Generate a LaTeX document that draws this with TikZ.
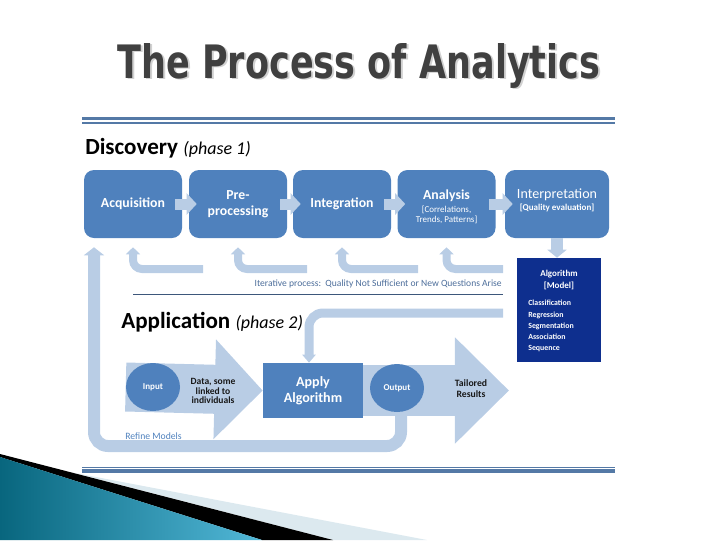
\documentclass[tikz,border=0pt]{standalone}
\usepackage{fontspec}
\setmainfont{Carlito}
\newfontfamily\titlefont{DejaVu Sans}
\usetikzlibrary{arrows.meta,shapes.geometric,positioning,backgrounds}
\newdimen\px \px=0.025cm
\newcommand{\fsz}[2]{\fontsize{#1}{#2}\selectfont}
\definecolor{boxblue}{HTML}{4F81BD}
\definecolor{paleblue}{HTML}{B9CDE5}
\definecolor{algblue}{HTML}{0E2F8E}
\definecolor{rulesteel}{HTML}{5479A6}
\definecolor{titlegray}{HTML}{404040}
\definecolor{iterblue}{HTML}{4C6D9A}
\definecolor{tealdark}{HTML}{08667E}
\definecolor{teallight}{HTML}{52B8D8}
\definecolor{bandpale}{HTML}{DCE9EF}
\tikzset{
  stepbox/.style={rectangle, rounded corners=10\px, fill=boxblue, text=white, align=center,
    inner sep=0pt, minimum width=98\px, minimum height=68\px, font=\fsz{9.8}{11.5}\bfseries},
  steptext/.style={text=white, align=center, inner sep=0pt},
  steparrow/.style={paleblue, line width=11\px, -{Triangle[width=0.525cm,length=0.25cm]}},
  backarrow/.style={paleblue, line width=8\px, rounded corners=9\px,
    -{Triangle[width=0.35cm,length=0.175cm]}, shorten >=9\px},
  phaselabel/.style={anchor=base west, inner sep=0pt, text=black},
  datatext/.style={align=center, text=black!90, inner sep=0pt},
}
\begin{document}
\begin{tikzpicture}[x=0.025cm, y=-0.025cm,
  roundnode/.style={ellipse, fill=boxblue, text=white, minimum width=54\px, minimum height=48\px,
    inner sep=0pt, font=\fsz{6.4}{7}\bfseries},
  blockarrow/.style={paleblue, line width=#1\px},
  algbox/.style={rectangle, fill=algblue, minimum width=84\px, minimum height=104\px, inner sep=0pt},
  algtext/.style={text=white, inner sep=0pt, font=\bfseries}]
\useasboundingbox (0,0) rectangle (720,540);
% Corner decoration
\fill[bandpale] (75,473) -- (427,540) -- (333,540) -- cycle;
\fill[black] (0,454) -- (333,540) -- (262,540) -- (0,457) -- cycle;
\shade[left color=tealdark, right color=teallight] (0,457) -- (262,540) -- (0,540) -- cycle;
% Title
\node[anchor=base west, inner sep=0pt, text=black!18] (titleshadow) at (119,79.5)
  {\resizebox{483\px}{35\px}{\titlefont\bfseries The Process of Analytics}};
\node[anchor=base west, inner sep=0pt, text=titlegray] (title) at (117,78)
  {\resizebox{483\px}{35\px}{\titlefont\bfseries The Process of Analytics}};
% Rules
\draw[rulesteel, line width=3\px] (82,118.5) -- (615,118.5);
\draw[rulesteel, line width=1.5\px] (82,123) -- (615,123);
\draw[rulesteel, line width=1.5\px] (82,467.3) -- (615,467.3);
\draw[rulesteel, line width=3.4\px] (82,471) -- (615,471);
% Discovery
\node[phaselabel] (disc) at (85,154)
  {\fsz{16.4}{18}\bfseries Discovery \fsz{12.8}{14}\mdseries\itshape (phase 1)};
\node[stepbox] (acq) at (133,204) {Acquisition};
\node[stepbox] (pre) at (238,204) {Pre-\\processing};
\node[stepbox] (integ) at (342,204) {Integration};
\node[stepbox] (anal) at (446.5,204) {};
\node[steptext, font=\fsz{9.8}{11.5}\bfseries] (analtext) at (446.5,207)
  {Analysis\\[-2pt]{\fsz{6.4}{8}\mdseries [Correlations,}\\[-4.5pt]{\fsz{6.4}{8}\mdseries Trends, Patterns]}};
\node[stepbox, minimum width=104\px] (interp) at (557,204) {};
\node[steptext, font=\fsz{10}{11.5}] (interptext) at (557,200.5)
  {Interpretation\\[-3pt]{\fsz{6.4}{8}\bfseries [Quality evaluation]}};
\draw[steparrow] ([xshift=-7\px]acq.east) -- ([xshift=8\px]pre.west);
\draw[steparrow] ([xshift=-7\px]pre.east) -- ([xshift=8\px]integ.west);
\draw[steparrow] ([xshift=-7\px]integ.east) -- ([xshift=8\px]anal.west);
\draw[steparrow] ([xshift=-7\px]anal.east) -- ([xshift=8\px]interp.west);
% Algorithm
\node[algbox] (alg) at (559,310) {};
\node[algtext, align=center, font=\fsz{6.4}{8.5}\bfseries] (algname) at (559,280) {Algorithm\\{}[Model]};
\node[algtext, align=left, anchor=north west, font=\fsz{5.6}{8}\bfseries] (algtypes) at (528,300)
  {Classification\\Regression\\Segmentation\\Association\\Sequence};
\draw[paleblue, line width=12\px, -{Triangle[width=0.475cm,length=0.2cm]}] (interp.south) -- (interp.south |- alg.north);
% Iterative returns
\coordinate (ret1) at (203,269);
\coordinate (ret2) at (307,269);
\coordinate (ret3) at (418,269);
\coordinate (ret4) at (503,269);
\draw[backarrow] (ret1) -| (acq.south);
\draw[backarrow] (ret2) -| (pre.south);
\draw[backarrow] (ret3) -| (integ.south);
\draw[backarrow] (ret4) -| (anal.south);
\node[anchor=east, inner sep=0pt, text=iterblue, font=\fsz{6.8}{7}] (iter) at (502,284)
  {Iterative process:\ \ Quality Not Sufficient or New Questions Arise};
\draw[iterblue!80!black, line width=1.3\px] (133,294.5) -- (503,294.5);
% Application
\node[phaselabel] (appl) at (121,328)
  {\fsz{16.4}{18}\bfseries Application \fsz{12.8}{14}\mdseries\itshape (phase 2)};
\node[roundnode] (input) at (153,387) {Input};
\node[datatext, font=\fsz{6.8}{6.9}\bfseries] (data) at (213,391) {Data, some\\linked to\\individuals};
\node[rectangle, fill=boxblue, text=white, align=center, minimum width=100\px, minimum height=55\px,
  inner sep=0pt, font=\fsz{10}{11.4}\bfseries] (apply) at (313,390.5) {Apply\\Algorithm};
\node[roundnode] (outp) at (397,388) {Output};
\coordinate (tip) at (509,390.5);
\node[datatext, font=\fsz{6.9}{7.8}\bfseries] (tailored) at (471,389) {Tailored\\Results};
\node[anchor=base west, inner sep=0pt, text=boxblue, font=\fsz{6.9}{8}] (refinetext) at (125,439) {Refine Models};
\coordinate (refine) at (94,446);
\coordinate (algfeed) at (503,313);
\begin{pgfonlayer}{background}
\draw[blockarrow=49, -{Triangle[width=2.425cm,length=1.2cm]}] (input.west) -- (apply.west);
\draw[blockarrow=51, -{Triangle[width=2.575cm,length=1.35cm]}] (apply.east) -- (tip);
\draw[paleblue, line width=12\px, rounded corners=14\px, -{Triangle[width=0.5cm,length=0.2cm]}, shorten >=9\px]
  ([xshift=4\px]outp.center) |- (refine) -- (refine |- acq.south);
\end{pgfonlayer}
\draw[paleblue, line width=9\px, rounded corners=14\px, -{Triangle[width=0.325cm,length=0.2cm]}]
  (algfeed) -| ([xshift=-4\px]apply.north);
\end{tikzpicture}
\end{document}
